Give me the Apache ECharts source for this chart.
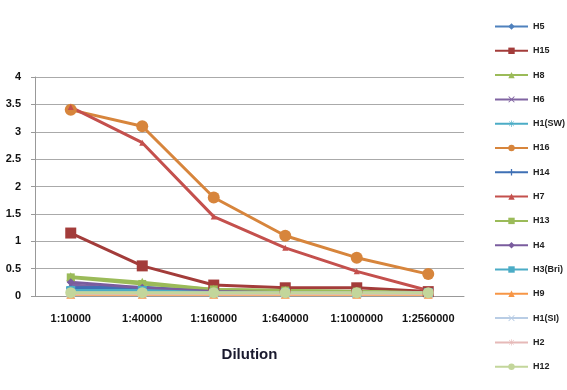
<!DOCTYPE html>
<html><head><meta charset="utf-8">
<script src="https://cdn.jsdelivr.net/npm/echarts@6/dist/echarts.min.js"></script>
<style>html,body{margin:0;padding:0;background:#fff}#c{width:567px;height:390px}</style>
</head><body><div id="c"></div>
<script>
const categories = ['1:10000','1:40000','1:160000','1:640000','1:1000000','1:2560000'];
const yTicks = [0,0.5,1,1.5,2,2.5,3,3.5,4];
const H5 = [0.15,0.12,0.07,0.06,0.05,0.05];
const H15 = [1.15,0.55,0.2,0.15,0.15,0.08];
const H8 = [0.35,0.25,0.12,0.1,0.08,0.06];
const H6 = [0.2,0.12,0.07,0.06,0.05,0.05];
const H1SW = [0.1,0.09,0.06,0.05,0.05,0.05];
const H16 = [3.4,3.1,1.8,1.1,0.7,0.4];
const H14 = [0.15,0.16,0.08,0.06,0.05,0.05];
const H7 = [3.45,2.8,1.45,0.88,0.45,0.1];
const H13 = [0.34,0.22,0.12,0.1,0.08,0.06];
const H4 = [0.25,0.15,0.08,0.06,0.05,0.05];
const H3Bri = [0.1,0.1,0.06,0.06,0.05,0.06];
const H9 = [0.03,0.03,0.03,0.03,0.03,0.03];
const H1SI = [0.05,0.05,0.05,0.05,0.05,0.05];
const H2 = [0.05,0.05,0.05,0.05,0.05,0.05];
const H12 = [0.06,0.06,0.06,0.06,0.06,0.06];

const plus = 'path://M4,0H6V4H10V6H6V10H4V6H0V4H4Z';
const cross = 'path://M1,0L5,4L9,0L10,1L6,5L10,9L9,10L5,6L1,10L0,9L4,5L0,1Z';
const star = 'path://M4.5,0H5.5V4L8.5,1L9,1.5L6,4.5H10V5.5H6L9,8.5L8.5,9L5.5,6V10H4.5V6L1.5,9L1,8.5L4,5.5H0V4.5H4L1,1.5L1.5,1L4.5,4Z';
const dash = 'path://M0,0H10V4H0Z';

const defs = [
  ['H5',H5,'#4F81BD','diamond',8],
  ['H15',H15,'#A33C3A','rect',11],
  ['H8',H8,'#9BBB59','triangle',9],
  ['H6',H6,'#8064A2',cross,8],
  ['H1(SW)',H1SW,'#4BACC6',star,9],
  ['H16',H16,'#D7853C','circle',12],
  ['H14',H14,'#3F70B5',plus,9],
  ['H7',H7,'#C4504D','triangle',6],
  ['H13',H13,'#9BBB59',dash,8],
  ['H4',H4,'#7A5C9E','diamond',8],
  ['H3(Bri)',H3Bri,'#4BACC6','rect',9],
  ['H9',H9,'#F79646','triangle',9],
  ['H1(SI)',H1SI,'#B9CDE5',cross,9],
  ['H2',H2,'#E6B9B8',star,9],
  ['H12',H12,'#C3D69B','circle',11]
];

const chart = echarts.init(document.getElementById('c'));
chart.setOption({
  animation:false,
  backgroundColor:'#fff',
  grid:{left:35,right:103,top:77,bottom:94},
  legend:{
    orient:'vertical', left:494, top:22, padding:0, itemWidth:33, itemHeight:8, itemGap:15.3,
    textStyle:{fontSize:9,fontWeight:'bold',color:'#222',fontFamily:'Liberation Sans'},
    data: defs.map(d=>d[0])
  },
  xAxis:{
    type:'category', data:categories, boundaryGap:true,
    name:'Dilution', nameLocation:'middle', nameGap:51,
    nameTextStyle:{fontSize:15,fontWeight:'bold',color:'#1a1a2e',fontFamily:'Liberation Sans'},
    axisLine:{lineStyle:{color:'#999'}}, axisTick:{show:false},
    axisLabel:{fontSize:11,fontWeight:'bold',color:'#111',margin:17,fontFamily:'Liberation Sans'}
  },
  yAxis:{
    type:'value', min:0, max:4, interval:0.5,
    axisLine:{show:true,lineStyle:{color:'#999'}},
    axisTick:{show:true,length:4,lineStyle:{color:'#999'}},
    splitLine:{lineStyle:{color:'#aaa'}},
    axisLabel:{fontSize:11,fontWeight:'bold',color:'#111',margin:14,fontFamily:'Liberation Sans',
      formatter:v=>yTicks.includes(v)?String(v):''}
  },
  series: defs.map(d=>({
    name:d[0], type:'line', data:d[1], symbol:d[3], symbolSize:d[4], showAllSymbol:true,
    lineStyle:{width:3,color:d[2]}, itemStyle:{color:d[2]}, emphasis:{disabled:true}
  }))
});
</script></body></html>
